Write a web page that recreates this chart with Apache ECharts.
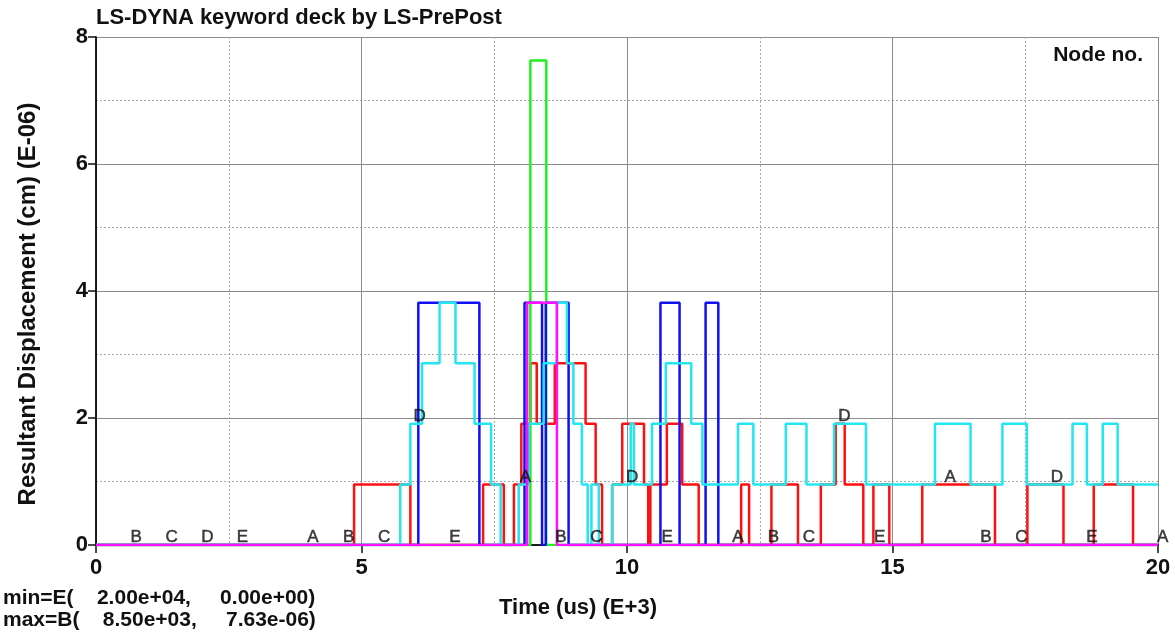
<!DOCTYPE html>
<html><head><meta charset="utf-8">
<script src="https://cdn.jsdelivr.net/npm/echarts@6/dist/echarts.min.js"></script>
<style>html,body{margin:0;padding:0;background:#fff}#c{width:1175px;height:633px}</style>
</head><body><div id="c"></div>
<script>
// ---- data (time in us E+3, displacement in cm E-06) ----
const aTime = [0, 4.86, 5.92, 7.29, 7.68, 7.87, 8.01, 8.18, 8.30, 8.64, 9.22, 9.41, 9.53, 9.72, 9.91, 10.32, 10.40, 10.44, 10.75, 11.04, 11.35, 12.15, 12.30, 12.72, 13.22, 13.65, 13.93, 14.10, 14.45, 14.64, 14.94, 15.56, 16.93, 17.54, 18.22, 18.79, 19.53, 20];
const aDisp = [0, 0.954, 0, 0.954, 0, 0.954, 1.908, 2.861, 1.908, 2.861, 1.908, 0.954, 0, 0.954, 1.908, 0.954, 0, 0.954, 1.908, 0.954, 0, 0.954, 0, 0.954, 0, 0.954, 1.908, 0.954, 0, 0.954, 0, 0.954, 0, 0.954, 0, 0.954, 0, 0];
const bTime = [0, 8.18, 8.48, 20];
const bDisp = [0, 7.63, 0, 0];
const cTime = [0, 6.07, 7.22, 8.07, 8.40, 8.47, 8.90, 10.63, 10.99, 11.48, 11.72, 20];
const cDisp = [0, 3.815, 0, 3.815, 0, 3.815, 0, 3.815, 0, 3.815, 0, 0];
const dTime = [0, 5.73, 5.92, 6.14, 6.47, 6.77, 7.13, 7.44, 7.62, 7.96, 8.15, 8.43, 8.68, 8.87, 8.99, 9.15, 9.26, 9.33, 9.47, 9.72, 10.07, 10.13, 10.47, 10.73, 11.21, 11.42, 12.09, 12.38, 12.99, 13.38, 13.90, 14.50, 15.80, 16.47, 17.07, 17.53, 18.39, 18.66, 18.96, 19.24, 20];
const dDisp = [0, 0.954, 1.908, 2.861, 3.815, 2.861, 1.908, 0.954, 0, 0.954, 1.908, 2.861, 3.815, 2.861, 1.908, 0.954, 0, 0.954, 0, 0.954, 1.908, 0.954, 1.908, 2.861, 1.908, 0.954, 1.908, 0.954, 1.908, 0.954, 1.908, 0.954, 1.908, 0.954, 1.908, 0.954, 1.908, 0.954, 1.908, 0.954, 0.954];
const eTime = [0, 8.12, 8.68, 20];
const eDisp = [0, 3.815, 0, 0];

const curveNames = ['A', 'B', 'C', 'D', 'E'];
const curveColors = ['#ff1010', '#22ee22', '#1010f0', '#22e6f0', '#ff10ff'];
// curve-letter marker times
const aMarks = [4, 8, 12, 16, 20];
const bMarks = [0.67, 4.67, 8.67, 12.67, 16.67];
const cMarks = [1.33, 5.33, 9.33, 13.33, 17.33];
const dMarks = [2, 6, 10, 14, 18];
const eMarks = [2.67, 6.67, 10.67, 14.67, 18.67];

const xTicks = [0, 5, 10, 15, 20];
const yTicks = [0, 2, 4, 6, 8];

const titleText = 'LS-DYNA keyword deck by LS-PrePost';
const legendTitle = 'Node no.';
const xName = 'Time (us) (E+3)';
const yName = 'Resultant Displacement (cm) (E-06)';
const minText = 'min=E(    2.00e+04,     0.00e+00)';
const maxText = 'max=B(    8.50e+03,     7.63e-06)';

// ---- build ----
const curves = [[aTime, aDisp, aMarks], [bTime, bDisp, bMarks], [cTime, cDisp, cMarks], [dTime, dDisp, dMarks], [eTime, eDisp, eMarks]];
function valueAt(times, vals, t) {
  let v = vals[0];
  for (let i = 0; i < times.length; i++) { if (times[i] <= t) v = vals[i]; }
  return v;
}
const FF = '"Liberation Sans", Arial, sans-serif';
const series = [];
curves.forEach((c, k) => {
  series.push({
    name: curveNames[k], type: 'line', step: 'end', symbol: 'none', animation: false,
    data: c[0].map((t, i) => [t, c[1][i]]),
    lineStyle: { color: curveColors[k], width: 2.5 }, z: 2 + k
  });
});
curves.forEach((c, k) => {
  series.push({
    type: 'scatter', symbolSize: 0.1, animation: false, silent: true, z: 20,
    itemStyle: { color: 'rgba(0,0,0,0)' },
    data: c[2].map(t => [t, valueAt(c[0], c[1], t)]),
    label: { show: true, position: [-1, -16], formatter: curveNames[k], color: '#111', fontSize: 17, fontFamily: FF,
             textBorderColor: '#111', textBorderWidth: 0.5 }
  });
});

const gridCol = '#8c8c8c';
const chart = echarts.init(document.getElementById('c'), null, { renderer: 'canvas' });
chart.setOption({
  animation: false,
  backgroundColor: '#fff',
  grid: { left: 96, right: 17, top: 37, bottom: 88, containLabel: false },
  xAxis: [{
    type: 'value', min: xTicks[0], max: xTicks[xTicks.length - 1], interval: 5,
    axisLine: { onZero: false, lineStyle: { color: '#111', width: 1.5 } },
    axisTick: { length: 6, lineStyle: { color: '#111', width: 1.5 } },
    axisLabel: { fontSize: 22, fontWeight: 'bold', color: '#111', margin: 12, fontFamily: FF },
    splitLine: { show: true, lineStyle: { color: gridCol, width: 1 } },
    minorTick: { show: false, splitNumber: 2 },
    minorSplitLine: { show: true, lineStyle: { color: '#aaa', width: 1, type: [2, 2] } }
  }, {
    type: 'value', position: 'top', min: 0, max: 20, interval: 5,
    axisLine: { show: true, lineStyle: { color: '#111', width: 1.5 } },
    axisTick: { show: true, inside: true, length: 8, lineStyle: { color: '#111', width: 1.5 } },
    axisLabel: { show: false }, splitLine: { show: false }
  }],
  yAxis: [{
    type: 'value', min: yTicks[0], max: yTicks[yTicks.length - 1], interval: 2,
    axisLine: { show: true, onZero: false, lineStyle: { color: '#111', width: 1.5 } },
    axisTick: { show: true, length: 6, lineStyle: { color: '#111', width: 1.5 } },
    axisLabel: { fontSize: 22, fontWeight: 'bold', color: '#111', margin: 8, fontFamily: FF },
    splitLine: { show: true, lineStyle: { color: gridCol, width: 1 } },
    minorTick: { show: false, splitNumber: 2 },
    minorSplitLine: { show: true, lineStyle: { color: '#aaa', width: 1, type: [2, 2] } }
  }, {
    type: 'value', position: 'right', min: 0, max: 8, interval: 2,
    axisLine: { show: true, lineStyle: { color: '#111', width: 1.5 } },
    axisTick: { show: true, inside: true, length: 8, lineStyle: { color: '#111', width: 1.5 } },
    axisLabel: { show: false }, splitLine: { show: false }
  }],
  graphic: [
    { type: 'text', left: 96, top: 7, style: { text: titleText, font: 'bold 22px ' + FF, fill: '#111' } },
    { type: 'text', right: 32, top: 45, style: { text: legendTitle, font: 'bold 21px ' + FF, fill: '#111' } },
    { type: 'text', x: 28, y: 304, rotation: Math.PI / 2, style: { text: yName, font: 'bold 24px ' + FF, fill: '#111', textAlign: 'center', textVerticalAlign: 'middle' } },
    { type: 'text', x: 578, y: 608, style: { text: xName, font: 'bold 22px ' + FF, fill: '#111', textAlign: 'center', textVerticalAlign: 'middle' } },
    { type: 'text', x: 3, y: 598, style: { text: minText, font: 'bold 21px ' + FF, fill: '#111', textAlign: 'left', textVerticalAlign: 'middle' } },
    { type: 'text', x: 3, y: 620, style: { text: maxText, font: 'bold 21px ' + FF, fill: '#111', textAlign: 'left', textVerticalAlign: 'middle' } }
  ],
  series: series
});
</script></body></html>
